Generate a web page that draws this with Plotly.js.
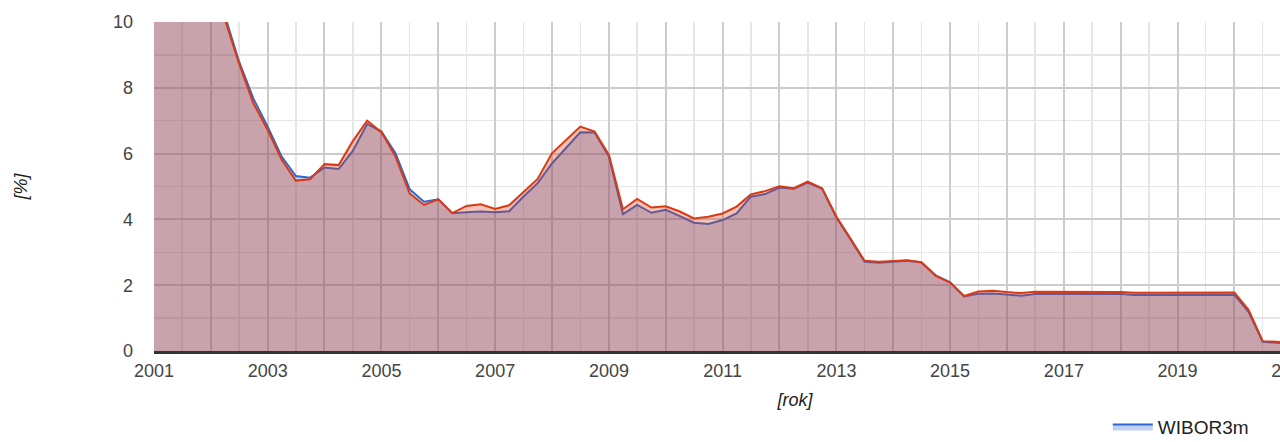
<!DOCTYPE html>
<html>
<head>
<meta charset="utf-8">
<script src="https://cdn.plot.ly/plotly-3.0.1.min.js"></script>
<style>
html, body { margin: 0; padding: 0; overflow: hidden; background: #fff; }
#chart { width: 1480px; height: 442px; }
</style>
</head>
<body>
<div id="chart"></div>
<script>
// Quarterly observation dates
const periods = [
  '2001-01-01','2001-04-01','2001-07-01','2001-10-01',
  '2002-01-01','2002-04-01','2002-07-01','2002-10-01',
  '2003-01-01','2003-04-01','2003-07-01','2003-10-01',
  '2004-01-01','2004-04-01','2004-07-01','2004-10-01',
  '2005-01-01','2005-04-01','2005-07-01','2005-10-01',
  '2006-01-01','2006-04-01','2006-07-01','2006-10-01',
  '2007-01-01','2007-04-01','2007-07-01','2007-10-01',
  '2008-01-01','2008-04-01','2008-07-01','2008-10-01',
  '2009-01-01','2009-04-01','2009-07-01','2009-10-01',
  '2010-01-01','2010-04-01','2010-07-01','2010-10-01',
  '2011-01-01','2011-04-01','2011-07-01','2011-10-01',
  '2012-01-01','2012-04-01','2012-07-01','2012-10-01',
  '2013-01-01','2013-04-01','2013-07-01','2013-10-01',
  '2014-01-01','2014-04-01','2014-07-01','2014-10-01',
  '2015-01-01','2015-04-01','2015-07-01','2015-10-01',
  '2016-01-01','2016-04-01','2016-07-01','2016-10-01',
  '2017-01-01','2017-04-01','2017-07-01','2017-10-01',
  '2018-01-01','2018-04-01','2018-07-01','2018-10-01',
  '2019-01-01','2019-04-01','2019-07-01','2019-10-01',
  '2020-01-01','2020-04-01','2020-07-01','2020-10-01',
  '2021-01-01'
];

// WIBOR3m [%]
const wibor3m = [
  19.3, 17.9, 16.6, 14.8,
  11.7, 10.2, 8.80, 7.68,
  6.82, 5.91, 5.32, 5.27,
  5.58, 5.53, 6.08, 6.90,
  6.67, 6.01, 4.92, 4.54,
  4.61, 4.19, 4.22, 4.24,
  4.22, 4.25, 4.69, 5.10,
  5.70, 6.16, 6.65, 6.64,
  5.91, 4.16, 4.44, 4.20,
  4.29, 4.10, 3.90, 3.86,
  3.98, 4.18, 4.69, 4.77,
  4.97, 4.93, 5.12, 4.93,
  4.06, 3.40, 2.71, 2.68,
  2.72, 2.74, 2.69, 2.30,
  2.09, 1.66, 1.74, 1.75,
  1.72, 1.68, 1.73, 1.73,
  1.73, 1.73, 1.73, 1.73,
  1.73, 1.70, 1.70, 1.72,
  1.72, 1.72, 1.72, 1.71,
  1.71, 1.19, 0.28, 0.25,
  0.21
];

// WIBOR6m [%]
const wibor6m = [
  19.1, 17.5, 16.2, 14.3,
  11.4, 10.1, 8.74, 7.53,
  6.72, 5.81, 5.18, 5.22,
  5.68, 5.65, 6.38, 7.00,
  6.65, 5.91, 4.79, 4.44,
  4.61, 4.19, 4.41, 4.46,
  4.32, 4.43, 4.84, 5.23,
  6.01, 6.41, 6.82, 6.67,
  5.96, 4.31, 4.62, 4.36,
  4.40, 4.24, 4.03, 4.08,
  4.18, 4.39, 4.76, 4.86,
  5.01, 4.95, 5.15, 4.95,
  4.08, 3.42, 2.74, 2.71,
  2.74, 2.76, 2.70, 2.28,
  2.08, 1.67, 1.81, 1.83,
  1.79, 1.76, 1.80, 1.80,
  1.81, 1.80, 1.80, 1.80,
  1.79, 1.77, 1.77, 1.78,
  1.78, 1.78, 1.78, 1.78,
  1.78, 1.25, 0.30, 0.28,
  0.25
];

const seriesNames = ['WIBOR3m', 'WIBOR6m'];

const yearTicks = ['2001-01-01','2002-01-01','2003-01-01','2004-01-01','2005-01-01','2006-01-01',
  '2007-01-01','2008-01-01','2009-01-01','2010-01-01','2011-01-01','2012-01-01','2013-01-01',
  '2014-01-01','2015-01-01','2016-01-01','2017-01-01','2018-01-01','2019-01-01','2020-01-01',
  '2021-01-01','2022-01-01','2023-01-01'];
const yearTickText = ['2001','','2003','','2005','','2007','','2009','','2011','','2013',
  '','2015','','2017','','2019','','2021','','2023'];

const FONT = 'Liberation Sans, Arial, sans-serif';

const traces = [
  {
    x: periods, y: wibor3m, name: seriesNames[0], type: 'scatter', mode: 'lines',
    line: { color: '#3366cc', width: 2 },
    fill: 'tozeroy', fillcolor: 'rgba(51,102,204,0.3)'
  },
  {
    x: periods, y: wibor6m, name: seriesNames[1], type: 'scatter', mode: 'lines',
    line: { color: '#dc3912', width: 2 },
    fill: 'tozeroy', fillcolor: 'rgba(220,57,18,0.3)'
  }
];

const layout = {
  width: 1480, height: 442,
  margin: { l: 154, r: 44, t: 22, b: 91, autoexpand: false },
  paper_bgcolor: '#ffffff', plot_bgcolor: '#ffffff',
  font: { family: FONT, size: 18, color: '#444' },
  showlegend: true,
  legend: {
    orientation: 'h', x: 0.744, xanchor: 'left', y: -0.172, yanchor: 'top',
    font: { family: FONT, size: 19, color: '#222' }, itemwidth: 40,
    entrywidth: 200, entrywidthmode: 'pixels',
    bgcolor: 'rgba(0,0,0,0)'
  },
  xaxis: {
    type: 'date',
    range: ['2001-01-01', '2023-07-19'],
    tickmode: 'array', tickvals: yearTicks, ticktext: yearTickText,
    showgrid: true, gridcolor: '#cccccc', gridwidth: 2,
    minor: { dtick: 'M6', tick0: '2001-01-01', showgrid: true, gridcolor: '#e6e6e6', gridwidth: 1.5 },
    showline: true, linecolor: '#333333', linewidth: 2.5,
    zeroline: false, ticks: '', ticklabelstandoff: 2,
    tickfont: { family: FONT, size: 18, color: '#444' },
    title: { text: '[rok]', standoff: 14, font: { family: FONT, size: 18, color: '#222', style: 'italic' } },
    fixedrange: true
  },
  yaxis: {
    range: [0, 10], dtick: 2, tick0: 0,
    showgrid: true, gridcolor: '#cccccc', gridwidth: 2,
    minor: { dtick: 1, showgrid: true, gridcolor: '#e6e6e6', gridwidth: 1.5 },
    zeroline: false, showline: false, ticks: '', ticklabelstandoff: 20,
    tickfont: { family: FONT, size: 18, color: '#444' },
    title: { text: '[%]', standoff: 80, font: { family: FONT, size: 18, color: '#222', style: 'italic' } },
    fixedrange: true
  },
  hovermode: false
};

Plotly.newPlot('chart', traces, layout, { staticPlot: true, displayModeBar: false });
</script>
</body>
</html>
